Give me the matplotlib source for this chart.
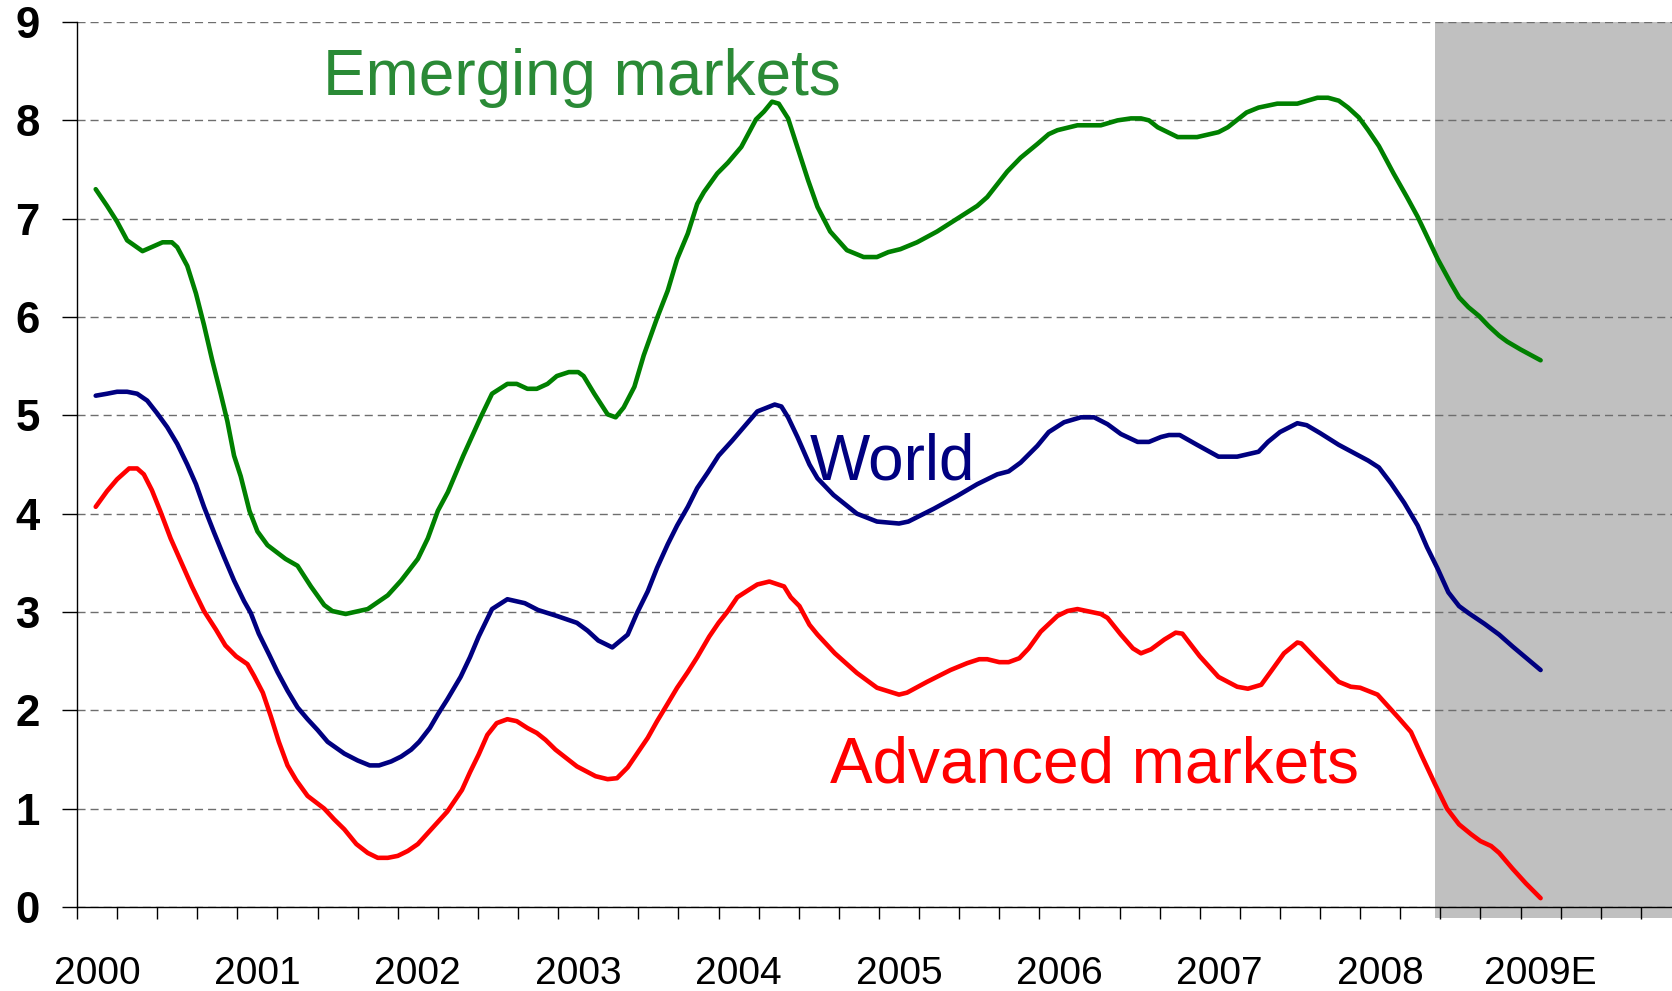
import matplotlib
matplotlib.use("Agg")
import matplotlib.pyplot as plt
import numpy as np

plt.rcParams['font.family'] = ['Liberation Sans', 'DejaVu Sans']

# x in months since Jan 2000
year_labels = ['2000', '2001', '2002', '2003', '2004', '2005', '2006', '2007', '2008', '2009E']
year_label_pos = [1.5, 13.5, 25.5, 37.5, 49.5, 61.5, 73.5, 85.5, 97.5, 109.5]
forecast_start = 101.6

em_x = [1.4, 2.25, 3.0, 3.75, 4.9, 6.4, 7.1, 7.5, 8.25, 8.9,
        9.5, 10.1, 10.75, 11.25, 11.75, 12.25, 12.9, 13.5, 14.25, 15.6,
        16.5, 17.5, 18.5, 19.1, 20.1, 21.75, 23.25, 24.25, 25.5, 26.25,
        27.0, 27.75, 28.9, 30.2, 31.05, 32.2, 32.9, 33.7, 34.4, 35.2,
        35.9, 36.8, 37.5, 37.9, 38.7, 39.7, 40.3, 40.9, 41.7, 42.4,
        43.4, 44.2, 44.9, 45.7, 46.4, 46.9, 47.9, 48.7, 49.7, 50.8,
        51.4, 52.0, 52.5, 53.2, 54.2, 54.7, 55.4, 56.35, 57.6, 58.85,
        59.85, 60.7, 61.6, 62.85, 64.35, 65.85, 67.35, 68.1, 69.6, 70.6,
        71.85, 72.7, 73.35, 74.85, 76.6, 77.85, 78.85, 79.6, 80.2, 80.85,
        82.35, 83.8, 85.4, 86.1, 87.5, 88.4, 89.8, 91.3, 92.8, 93.6,
        94.4, 95.1, 95.9, 96.6, 97.4, 98.5, 99.5, 100.3, 101.0, 101.8,
        102.8, 103.4, 104.1, 104.9, 105.6, 106.4, 107.0, 108.0, 109.5]
em_y = [7.30, 7.13, 6.97, 6.78, 6.67, 6.76, 6.76, 6.71, 6.52, 6.24,
        5.92, 5.57, 5.22, 4.94, 4.59, 4.38, 4.03, 3.82, 3.68, 3.54,
        3.47, 3.26, 3.07, 3.01, 2.98, 3.03, 3.17, 3.32, 3.54, 3.75,
        4.03, 4.22, 4.59, 4.98, 5.22, 5.32, 5.32, 5.27, 5.27, 5.32,
        5.40, 5.44, 5.44, 5.40, 5.22, 5.01, 4.98, 5.08, 5.29, 5.61,
        5.99, 6.27, 6.59, 6.85, 7.15, 7.27, 7.46, 7.57, 7.73, 8.01,
        8.09, 8.19, 8.17, 8.02, 7.60, 7.39, 7.12, 6.87, 6.68, 6.61,
        6.61, 6.66, 6.69, 6.76, 6.87, 7.00, 7.13, 7.22, 7.48, 7.62,
        7.76, 7.86, 7.90, 7.95, 7.95, 8.00, 8.02, 8.02, 8.00, 7.93,
        7.83, 7.83, 7.88, 7.93, 8.08, 8.13, 8.17, 8.17, 8.23, 8.23,
        8.20, 8.13, 8.03, 7.90, 7.74, 7.46, 7.22, 7.02, 6.82, 6.59,
        6.34, 6.20, 6.10, 6.01, 5.91, 5.81, 5.75, 5.67, 5.56]

world_x = [1.4, 2.25, 3.0, 3.75, 4.5, 5.25, 6.0, 6.75, 7.5, 8.25,
           8.9, 9.5, 10.25, 11.0, 11.75, 12.5, 13.0, 13.6, 14.4, 15.0,
           15.75, 16.5, 17.25, 18.0, 18.75, 20.0, 21.0, 21.9, 22.6, 23.5,
           24.25, 25.0, 25.6, 26.4, 27.0, 27.7, 28.7, 29.4, 30.05, 31.05,
           32.2, 33.5, 34.5, 35.9, 37.4, 38.2, 39.0, 40.05, 41.2, 41.9,
           42.7, 43.4, 44.2, 44.9, 45.7, 46.4, 47.2, 48.0, 49.0, 50.2,
           50.9, 52.2, 52.7, 53.2, 53.9, 54.8, 55.4, 56.6, 58.35, 59.85,
           61.5, 62.2, 64.1, 65.85, 67.35, 68.85, 69.7, 70.6, 71.85, 72.7,
           73.85, 75.1, 76.1, 77.1, 78.1, 79.35, 80.2, 81.1, 81.7, 82.5,
           83.8, 85.4, 86.8, 88.4, 89.1, 90.0, 91.3, 92.0, 93.0, 94.4,
           95.5, 96.6, 97.4, 98.3, 99.3, 100.3, 101.0, 101.8, 102.6, 103.4,
           104.1, 105.3, 106.4, 107.4, 109.5]
world_y = [5.20, 5.22, 5.24, 5.24, 5.22, 5.15, 5.02, 4.88, 4.71, 4.50,
           4.30, 4.07, 3.81, 3.56, 3.32, 3.11, 2.99, 2.78, 2.56, 2.39,
           2.20, 2.03, 1.91, 1.80, 1.68, 1.56, 1.49, 1.44, 1.44, 1.48,
           1.53, 1.60, 1.68, 1.82, 1.96, 2.11, 2.34, 2.54, 2.75, 3.03,
           3.13, 3.09, 3.02, 2.96, 2.89, 2.81, 2.71, 2.64, 2.77, 2.99,
           3.21, 3.45, 3.69, 3.88, 4.07, 4.26, 4.42, 4.59, 4.74, 4.93,
           5.04, 5.11, 5.09, 4.98, 4.78, 4.50, 4.36, 4.19, 4.00, 3.92,
           3.90, 3.92, 4.05, 4.18, 4.30, 4.40, 4.43, 4.52, 4.69, 4.83,
           4.93, 4.98, 4.98, 4.91, 4.81, 4.73, 4.73, 4.78, 4.80, 4.80,
           4.70, 4.58, 4.58, 4.63, 4.73, 4.83, 4.92, 4.90, 4.82, 4.70,
           4.62, 4.54, 4.47, 4.31, 4.11, 3.88, 3.66, 3.44, 3.20, 3.06,
           2.99, 2.88, 2.77, 2.65, 2.41]

adv_x = [1.4, 2.25, 3.0, 3.9, 4.5, 5.0, 5.6, 6.25, 7.0, 7.75,
         8.6, 9.5, 10.4, 11.1, 11.9, 12.75, 13.25, 13.9, 14.5, 15.1,
         15.75, 16.4, 17.25, 18.5, 19.25, 20.0, 20.9, 21.75, 22.5, 23.25,
         24.0, 24.75, 25.5, 26.5, 27.7, 28.8, 29.4, 30.05, 30.7, 31.4,
         32.2, 32.9, 33.7, 34.4, 35.05, 35.8, 37.4, 38.8, 39.7, 40.4,
         41.2, 41.9, 42.7, 43.4, 44.2, 44.9, 45.7, 46.4, 47.3, 48.0,
         48.7, 49.4, 50.2, 50.9, 51.8, 52.9, 53.4, 54.05, 54.8, 55.4,
         56.7, 58.35, 59.85, 61.5, 62.1, 63.6, 65.35, 66.6, 67.5, 68.1,
         69.0, 69.7, 70.5, 71.2, 72.1, 73.35, 74.1, 74.85, 76.6, 77.1,
         78.1, 79.0, 79.6, 80.35, 81.35, 82.2, 82.7, 84.0, 85.4, 86.8,
         87.6, 88.6, 89.4, 90.3, 91.3, 91.6, 92.8, 94.4, 95.3, 96.0,
         97.3, 98.1, 98.9, 99.8, 100.6, 101.6, 102.5, 103.4, 104.3, 105.0,
         105.8, 106.4, 107.4, 108.4, 109.5]
adv_y = [4.07, 4.23, 4.35, 4.46, 4.46, 4.40, 4.24, 4.02, 3.75, 3.52,
         3.26, 3.01, 2.82, 2.66, 2.55, 2.47, 2.35, 2.18, 1.94, 1.68,
         1.44, 1.29, 1.13, 1.00, 0.89, 0.79, 0.64, 0.55, 0.50, 0.50,
         0.52, 0.57, 0.64, 0.79, 0.97, 1.19, 1.37, 1.55, 1.75, 1.87,
         1.91, 1.89, 1.82, 1.77, 1.70, 1.60, 1.43, 1.33, 1.30, 1.31,
         1.42, 1.56, 1.72, 1.89, 2.07, 2.23, 2.39, 2.54, 2.75, 2.89,
         3.01, 3.15, 3.22, 3.28, 3.31, 3.26, 3.15, 3.06, 2.87, 2.77,
         2.58, 2.38, 2.23, 2.16, 2.18, 2.29, 2.41, 2.48, 2.52, 2.52,
         2.49, 2.49, 2.53, 2.63, 2.80, 2.96, 3.01, 3.03, 2.98, 2.94,
         2.77, 2.63, 2.58, 2.62, 2.72, 2.79, 2.78, 2.55, 2.34, 2.24,
         2.22, 2.26, 2.41, 2.58, 2.69, 2.68, 2.51, 2.29, 2.24, 2.23,
         2.16, 2.04, 1.92, 1.78, 1.54, 1.25, 1.00, 0.84, 0.74, 0.67,
         0.62, 0.55, 0.39, 0.24, 0.09]

fig = plt.figure(figsize=(16.72, 9.91), dpi=100)
ax = fig.add_axes([0.04605, 0.08476, 0.9593, 0.8930])

# shaded forecast area, runs a little below the axis line
ax.axvspan(forecast_start, 120, ymin=-0.0125, ymax=1, color='#c0c0c0',
           lw=0, zorder=0, clip_on=False)

lw = 3.3
ax.plot(em_x, em_y, color='#008000', lw=lw, solid_joinstyle='round', solid_capstyle='round', zorder=3)
ax.plot(world_x, world_y, color='#000080', lw=lw, solid_joinstyle='round', solid_capstyle='round', zorder=3)
ax.plot(adv_x, adv_y, color='#ff0000', lw=lw, solid_joinstyle='round', solid_capstyle='round', zorder=3)

ax.text(18.4, 8.26, 'Emerging markets', color='#2a8a36', fontsize=46, ha='left', va='baseline')
ax.text(54.8, 4.35, 'World', color='#000080', fontsize=46, ha='left', va='baseline')
ax.text(56.3, 1.27, 'Advanced markets', color='#ff0000', fontsize=46, ha='left', va='baseline')

ax.set_xlim(0, 120)
ax.set_ylim(0, 9)

ax.set_yticks(range(0, 10))
ax.set_yticklabels([str(i) for i in range(0, 10)], fontsize=31.5, fontweight='bold')
ax.tick_params(axis='y', length=10.8, width=1, direction='out', pad=16)

ax.set_xticks(np.arange(0, 121, 3))
ax.set_xticklabels([])
ax.tick_params(axis='x', which='major', length=8.6, width=1, direction='out')
ax.set_xticks(year_label_pos, minor=True)
ax.set_xticklabels(year_labels, minor=True, fontsize=28)
ax.tick_params(axis='x', which='minor', length=0, pad=35)

ax.grid(axis='y', color='#6e6e6e', linestyle=(0, (5.8, 3.6)), lw=1.0)
ax.set_axisbelow(True)

for s in ['top', 'right']:
    ax.spines[s].set_visible(False)
ax.spines['left'].set_linewidth(1)
ax.spines['bottom'].set_linewidth(1)
ax.spines['bottom'].set_zorder(4)

fig.savefig('out.png', dpi=100)
